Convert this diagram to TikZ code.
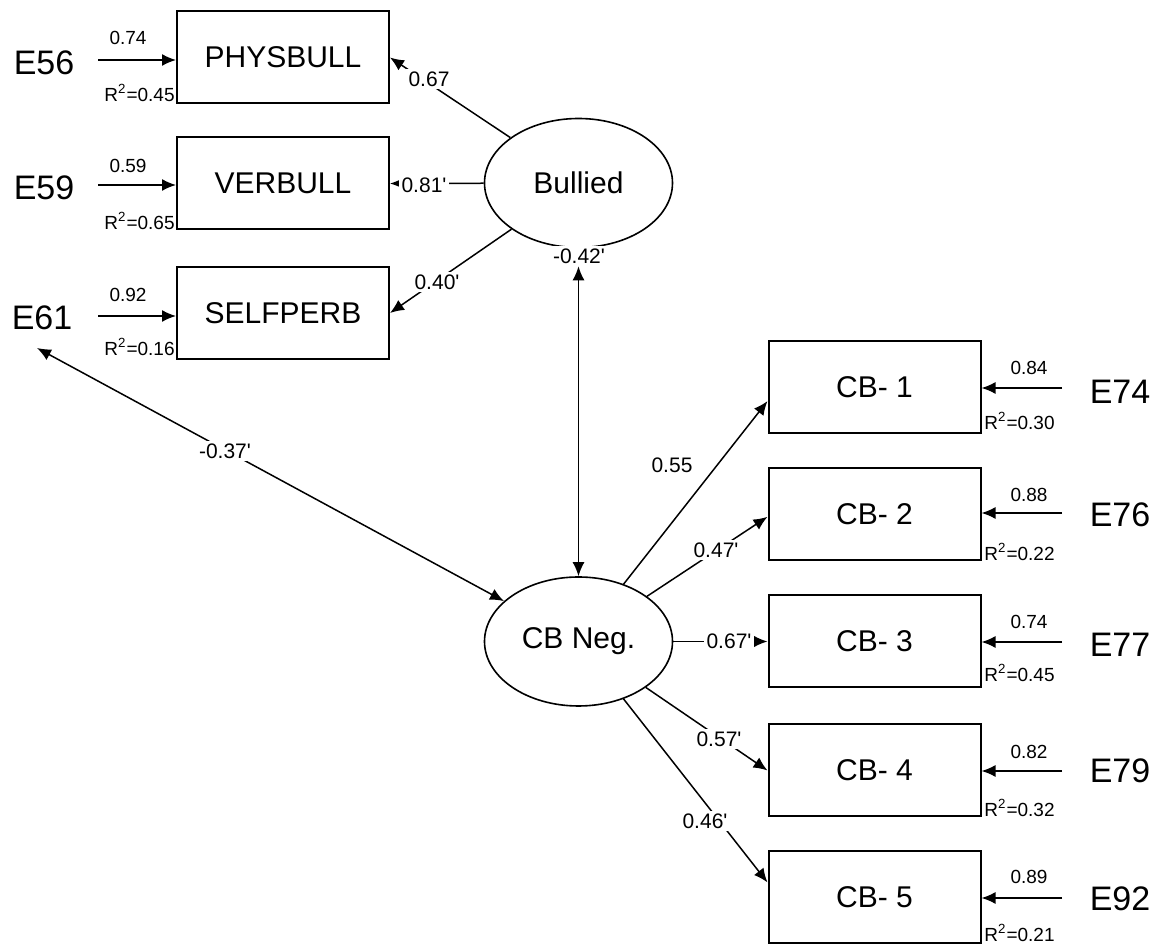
\documentclass[tikz,border=0pt]{standalone}
\usepackage{fontspec}
\setmainfont{Liberation Sans}
\usetikzlibrary{arrows.meta,shapes.geometric,calc}
\newcommand{\prm}{\textquotesingle}
\begin{document}
\begin{tikzpicture}[x=0.5pt,y=-0.5pt,
  obs/.style={draw,line width=1pt,minimum width=106pt,minimum height=46pt,inner sep=0pt,font=\fontsize{15}{18}\selectfont},
  lat/.style={draw,ellipse,line width=0.8pt,minimum width=94pt,minimum height=64.5pt,inner sep=0pt,font=\fontsize{15}{18}\selectfont},
  errlab/.style={font=\fontsize{17}{20}\selectfont,inner sep=0pt},
  coef/.style={font=\fontsize{9.5}{11}\selectfont,inner sep=0.5pt},
  plab/.style={font=\fontsize{10.5}{12}\selectfont,fill=white,inner sep=1.5pt},
  rsq/.style={font=\fontsize{9.5}{11}\selectfont,inner sep=0pt},
  conn/.style={line width=0.75pt,-{Latex[length=7pt,width=6pt]}},
  cov/.style={line width=0.75pt,{Latex[length=7pt,width=6pt]}-{Latex[length=7pt,width=6pt]}}
]
\fill[white] (0,0) rectangle (1164,945);
\useasboundingbox (0,0) rectangle (1164,945);

% observed variables (left)
\node[obs] (phys) at (283,57.5) {PHYSBULL};
\node[obs] (verb) at (283,183.5) {VERBULL};
\node[obs] (self) at (283,313) {SELFPERB};
% latent variables
\node[lat] (bul) at (578.5,183) {Bullied};
\node[lat] (neg) at (578.5,641.5) {CB Neg.};
% observed variables (right)
\node[obs] (cb1) at (874.5,387) {CB- 1};
\node[obs] (cb2) at (874.5,514) {CB- 2};
\node[obs] (cb3) at (874.5,641.5) {CB- 3};
\node[obs] (cb4) at (874.5,770.5) {CB- 4};
\node[obs] (cb5) at (874.5,897.5) {CB- 5};

% error terms
\node[errlab] (e56) at (44,63) {E56};
\node[errlab] (e59) at (44,188) {E59};
\node[errlab] (e61) at (42,318) {E61};
\node[errlab] (e74) at (1120,392) {E74};
\node[errlab] (e76) at (1120,515) {E76};
\node[errlab] (e77) at (1120,645) {E77};
\node[errlab] (e79) at (1120,771) {E79};
\node[errlab] (e92) at (1120,899) {E92};

% error arrow start points
\coordinate (s56) at (98,60);
\coordinate (s59) at (98,185);
\coordinate (s61) at (98,316);
\coordinate (s74) at (1062,388);
\coordinate (s76) at (1062,513);
\coordinate (s77) at (1062,642);
\coordinate (s79) at (1062,771);
\coordinate (s92) at (1062,898);
\coordinate (t61) at (37,348);

\draw[conn] (s56) -- (s56 -| phys.west);
\draw[conn] (s59) -- (s59 -| verb.west);
\draw[conn] (s61) -- (s61 -| self.west);
\draw[conn] (s74) -- (s74 -| cb1.east);
\draw[conn] (s76) -- (s76 -| cb2.east);
\draw[conn] (s77) -- (s77 -| cb3.east);
\draw[conn] (s79) -- (s79 -| cb4.east);
\draw[conn] (s92) -- (s92 -| cb5.east);

% error coefficients
\node[coef] (c56) at (128,38) {0.74};
\node[coef] (c59) at (128,166) {0.59};
\node[coef] (c61) at (128,295) {0.92};
\node[coef] (c74) at (1029,368) {0.84};
\node[coef] (c76) at (1029,495) {0.88};
\node[coef] (c77) at (1029,622) {0.74};
\node[coef] (c79) at (1029,752) {0.82};
\node[coef] (c92) at (1029,877) {0.89};

% R squared
\node[rsq,anchor=east] (r1) at (175,93) {R\textsuperscript{2}=0.45};
\node[rsq,anchor=east] (r2) at (175,221) {R\textsuperscript{2}=0.65};
\node[rsq,anchor=east] (r3) at (175,347) {R\textsuperscript{2}=0.16};
\node[rsq,anchor=west] (r4) at (984,421) {R\textsuperscript{2}=0.30};
\node[rsq,anchor=west] (r5) at (984,552) {R\textsuperscript{2}=0.22};
\node[rsq,anchor=west] (r6) at (984,673) {R\textsuperscript{2}=0.45};
\node[rsq,anchor=west] (r7) at (984,808) {R\textsuperscript{2}=0.32};
\node[rsq,anchor=west] (r8) at (984,933) {R\textsuperscript{2}=0.21};

% loadings of Bullied
\draw[conn] (bul) -- (phys.east);
\draw[conn] (bul) -- (verb.east);
\draw[conn] (bul) -- (self.east);
% loadings of CB Neg.
\draw[conn] (neg) -- ($(cb1.north west)!0.65!(cb1.south west)$);
\draw[conn] (neg) -- ($(cb2.north west)!0.53!(cb2.south west)$);
\draw[conn] (neg) -- (cb3.west);
\draw[conn] (neg) -- ($(cb4.north west)!0.5!(cb4.south west)$);
\draw[conn] (neg) -- ($(cb5.north west)!0.34!(cb5.south west)$);
% covariances
\draw[cov,shorten <=9pt] (bul.south) -- (neg.north);
\draw[cov] (t61) -- (neg);

% path labels
\node[plab] (l1) at (429,79) {0.67};
\node[plab] (l2) at (424,185) {0.81\prm};
\node[plab] (l3) at (437,282) {0.40\prm};
\node[plab] (l4) at (579,256) {-0.42\prm};
\node[plab] (l5) at (225,451) {-0.37\prm};
\node[font=\fontsize{10.5}{12}\selectfont,inner sep=1pt] (l6) at (672,465) {0.55};
\node[plab] (l7) at (716,550) {0.47\prm};
\node[plab] (l8) at (729,641.5) {0.67\prm};
\node[plab] (l9) at (719,739) {0.57\prm};
\node[plab] (l10) at (705,821) {0.46\prm};
\end{tikzpicture}
\end{document}
